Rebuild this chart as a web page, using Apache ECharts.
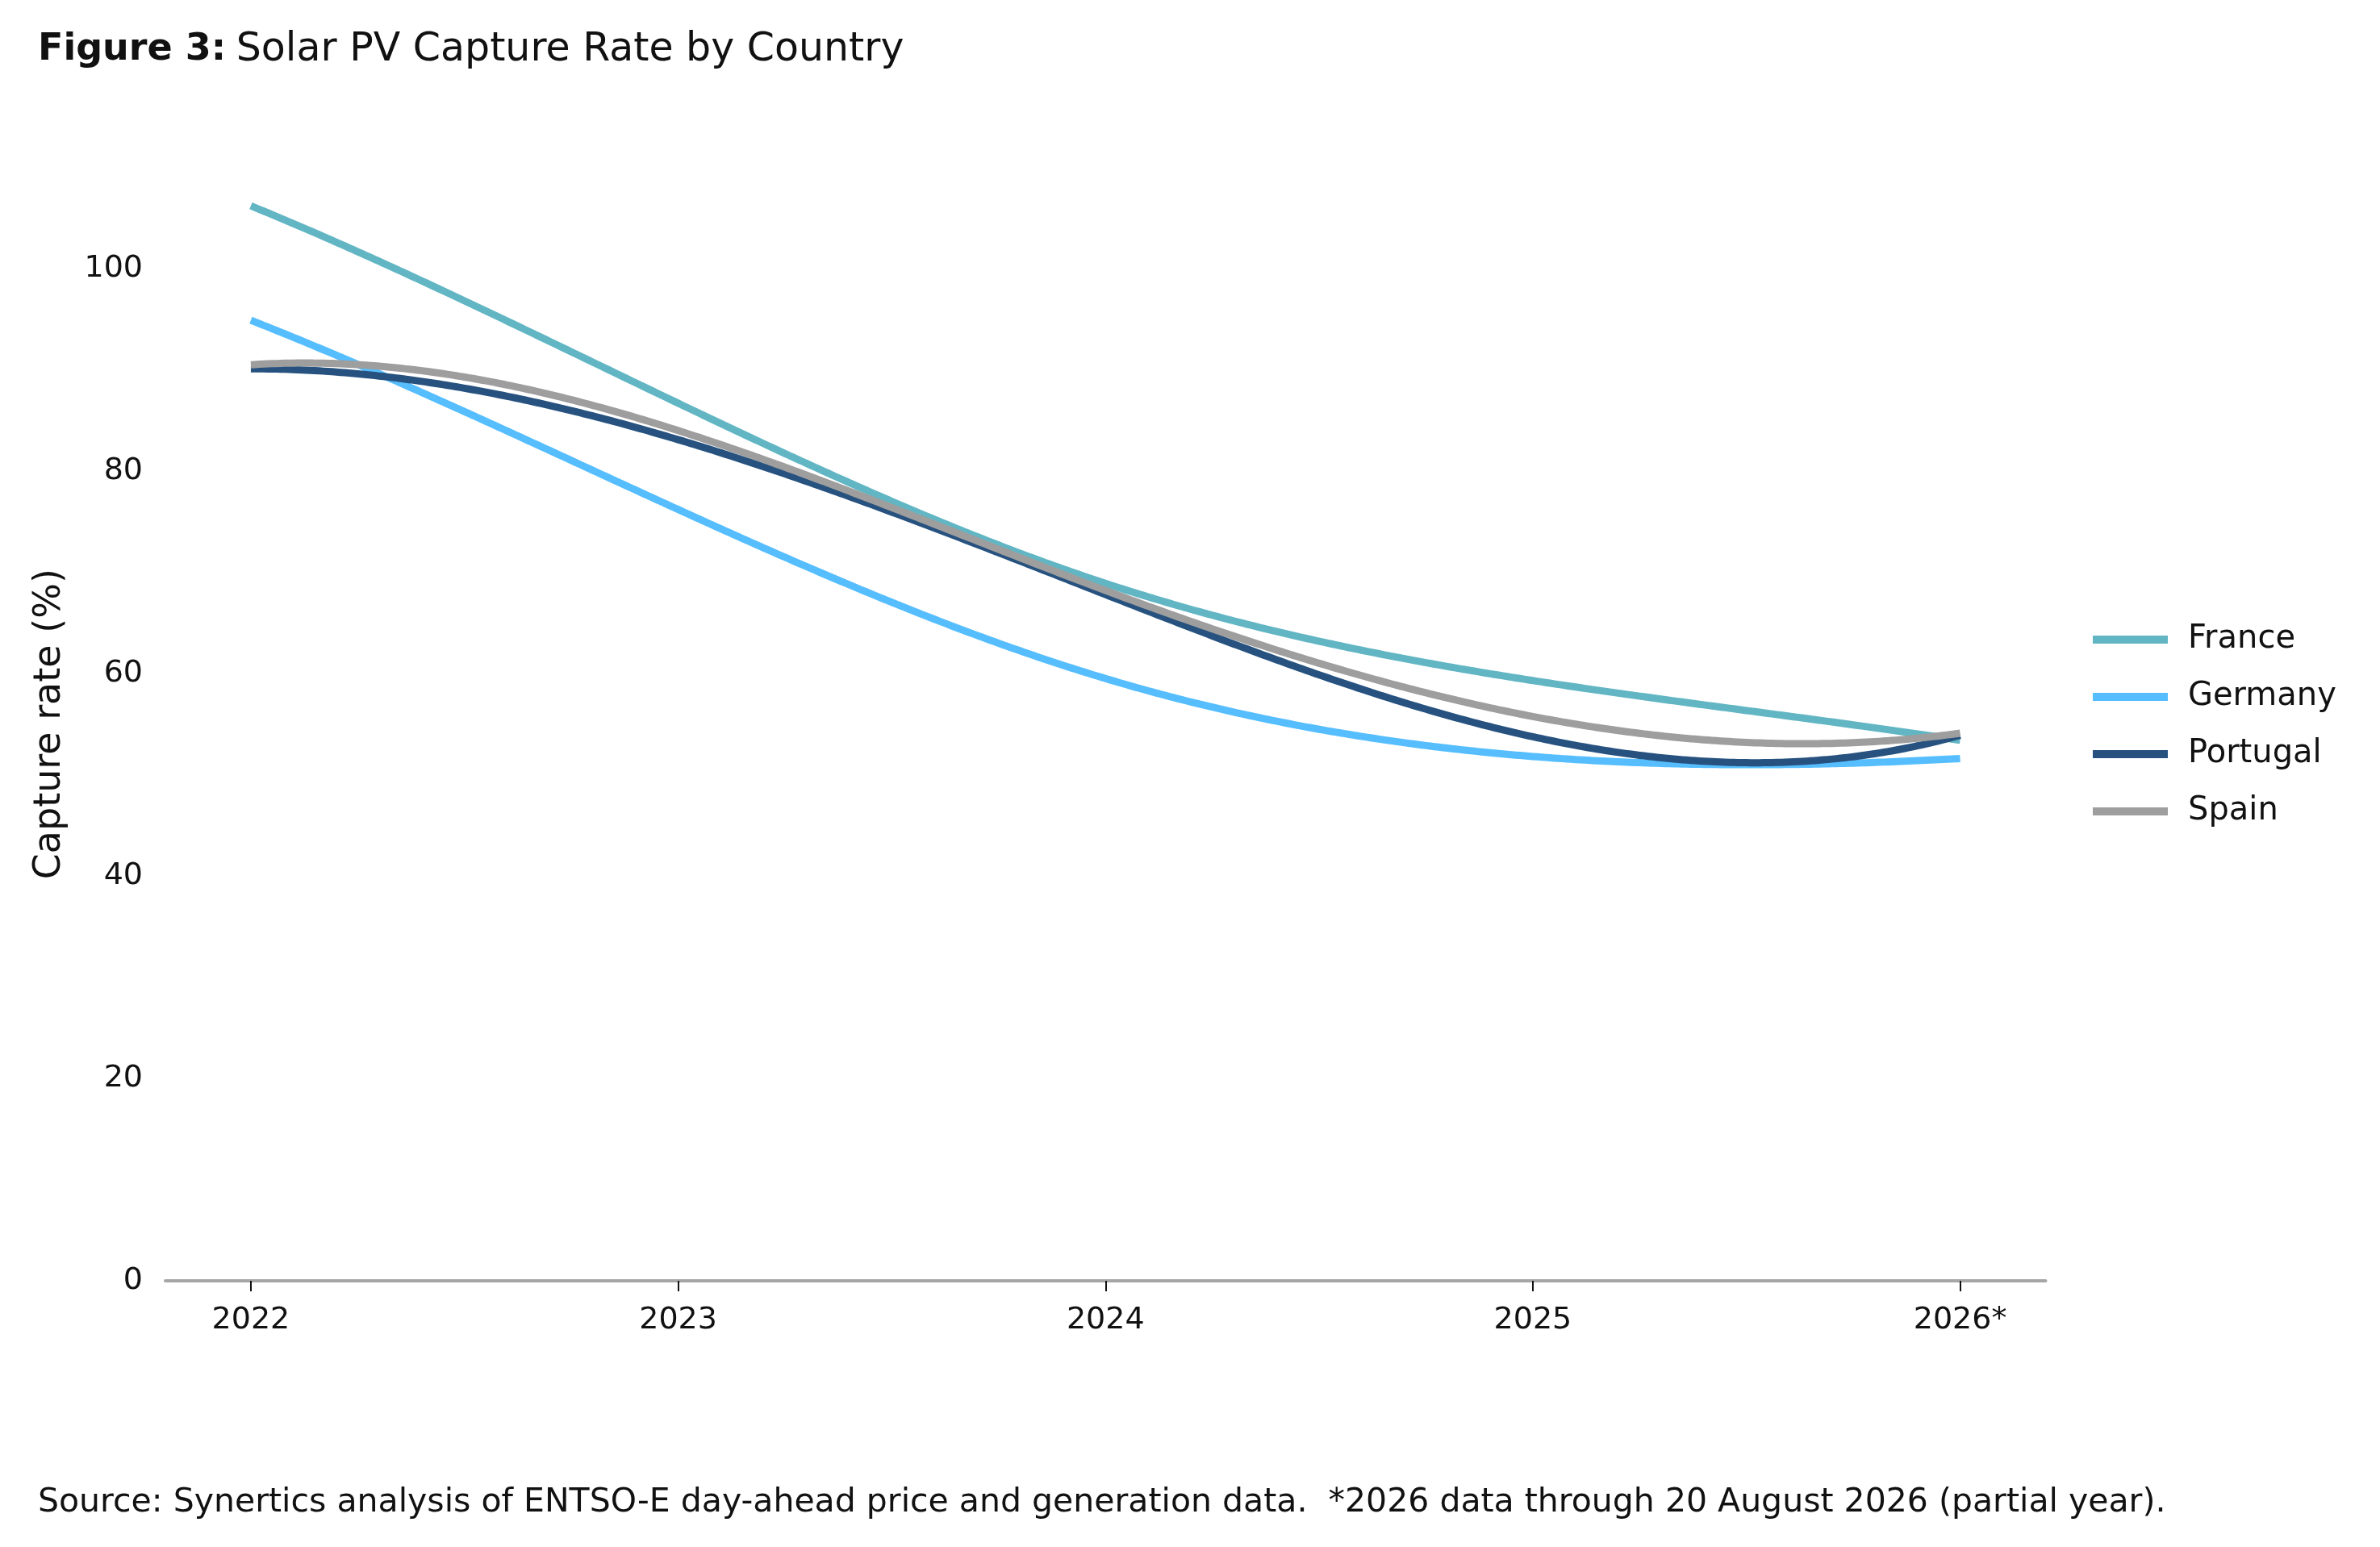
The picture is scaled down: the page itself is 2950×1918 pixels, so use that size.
<!DOCTYPE html>
<html>
<head>
<meta charset="utf-8">
<script src="https://cdn.jsdelivr.net/npm/echarts@6/dist/echarts.min.js"></script>
<style>html,body{margin:0;padding:0;background:#fff}#c{width:2950px;height:1918px}</style>
</head>
<body>
<div id="c"></div>
<script>
const years = [2022, 2023, 2024, 2025, 2026];
const yearLabels = ['2022', '2023', '2024', '2025', '2026*'];
const france = [106.2, 86.7, 68.9, 59.3, 53.4];
const germany = [94.9, 76.2, 59.5, 51.8, 51.6];
const portugal = [90.1, 83.1, 67.8, 53.75, 53.9];
const spain = [90.5, 84.0, 68.2, 55.75, 54.1];
const yTicks = [0, 20, 40, 60, 80, 100];

const FONT = 'DejaVu Sans';

// Not-a-knot cubic spline through the data points (rendering only)
function splineFn(xs, ys) {
  const n = xs.length;
  const h = [];
  for (let i = 0; i < n - 1; i++) h.push(xs[i + 1] - xs[i]);
  const A = [], b = [];
  for (let i = 0; i < n; i++) { A.push(new Array(n).fill(0)); b.push(0); }
  A[0][0] = h[1]; A[0][1] = -(h[0] + h[1]); A[0][2] = h[0];
  for (let i = 1; i < n - 1; i++) {
    A[i][i - 1] = h[i - 1]; A[i][i] = 2 * (h[i - 1] + h[i]); A[i][i + 1] = h[i];
    b[i] = 6 * ((ys[i + 1] - ys[i]) / h[i] - (ys[i] - ys[i - 1]) / h[i - 1]);
  }
  A[n - 1][n - 3] = h[n - 2]; A[n - 1][n - 2] = -(h[n - 3] + h[n - 2]); A[n - 1][n - 1] = h[n - 3];
  for (let c = 0; c < n; c++) {
    let p = c;
    for (let r = c + 1; r < n; r++) if (Math.abs(A[r][c]) > Math.abs(A[p][c])) p = r;
    [A[c], A[p]] = [A[p], A[c]]; [b[c], b[p]] = [b[p], b[c]];
    for (let r = c + 1; r < n; r++) {
      const f = A[r][c] / A[c][c];
      for (let k = c; k < n; k++) A[r][k] -= f * A[c][k];
      b[r] -= f * b[c];
    }
  }
  const M = new Array(n).fill(0);
  for (let r = n - 1; r >= 0; r--) {
    let s = b[r];
    for (let k = r + 1; k < n; k++) s -= A[r][k] * M[k];
    M[r] = s / A[r][r];
  }
  return x => {
    let i = 0;
    while (i < n - 2 && x > xs[i + 1]) i++;
    const hi = h[i], a = xs[i + 1] - x, t = x - xs[i];
    return M[i] * a * a * a / (6 * hi) + M[i + 1] * t * t * t / (6 * hi)
      + (ys[i] / hi - M[i] * hi / 6) * a + (ys[i + 1] / hi - M[i + 1] * hi / 6) * t;
  };
}

const mk = (name, vals, color) => ({
  name, type: 'custom',
  data: years.map((y, i) => [y, vals[i]]),
  itemStyle: { color },
  silent: true,
  renderItem: (params, api) => {
    if (params.dataIndex !== 0) return null;
    const f = splineFn(years, vals);
    const pts = [];
    const x0 = years[0], x1 = years[years.length - 1], steps = 400;
    for (let s = 0; s <= steps; s++) {
      const x = x0 + (x1 - x0) * s / steps;
      pts.push(api.coord([x, f(x)]));
    }
    return {
      type: 'polyline', shape: { points: pts },
      style: { stroke: color, lineWidth: 9, fill: null, lineCap: 'butt', lineJoin: 'round' }
    };
  }
});

const chart = echarts.init(document.getElementById('c'));
chart.setOption({
  animation: false,
  backgroundColor: '#ffffff',
  textStyle: { fontFamily: FONT, color: '#111' },
  title: [
    {
      left: 47, top: 38, padding: 0,
      text: '{b|Figure 3:}  {r|Solar PV Capture Rate by Country}',
      textStyle: {
        rich: {
          b: { fontFamily: FONT, fontWeight: 'bold', fontSize: 46, color: '#111' },
          r: { fontFamily: FONT, fontWeight: 'normal', fontSize: 49, color: '#111' }
        }
      }
    },
    {
      left: 47, top: 1843, padding: 0,
      text: 'Source: Synertics analysis of ENTSO-E day-ahead price and generation data.  *2026 data through 20 August 2026 (partial year).',
      textStyle: { fontFamily: FONT, fontWeight: 'normal', fontSize: 41, color: '#111' }
    }
  ],
  legend: {
    orient: 'vertical', left: 2589, top: 768,
    icon: 'rect', itemWidth: 93, itemHeight: 10, itemGap: 31,
    textStyle: { fontFamily: FONT, fontSize: 40, color: '#111', padding: [0, 0, 0, 20] },
    data: ['France', 'Germany', 'Portugal', 'Spain']
  },
  grid: { left: 205, right: 414.5, top: 207.5, bottom: 330, containLabel: false },
  xAxis: {
    type: 'value', min: 2021.8, max: 2026.2,
    splitLine: { show: false },
    axisLine: { show: true, lineStyle: { color: '#a6a6a6', width: 4 } },
    axisTick: { show: true, customValues: years, length: 13, lineStyle: { color: '#111', width: 2 } },
    axisLabel: {
      customValues: years, margin: 30, fontSize: 38, color: '#111', fontFamily: FONT,
      formatter: v => yearLabels[years.indexOf(Math.round(v))] || ''
    }
  },
  yAxis: {
    type: 'value', min: 0, max: 110,
    name: 'Capture rate (%)', nameLocation: 'middle', nameRotate: 90, nameGap: 120,
    nameTextStyle: { fontFamily: FONT, fontSize: 46, color: '#111' },
    splitLine: { show: false },
    axisLine: { show: false }, axisTick: { show: false },
    axisLabel: { customValues: yTicks, margin: 28, fontSize: 38, color: '#111', fontFamily: FONT }
  },
  series: [
    mk('France', france, '#62b6c4'),
    mk('Germany', germany, '#56befe'),
    mk('Portugal', portugal, '#27527f'),
    mk('Spain', spain, '#9e9e9e')
  ]
});
</script>
</body>
</html>
